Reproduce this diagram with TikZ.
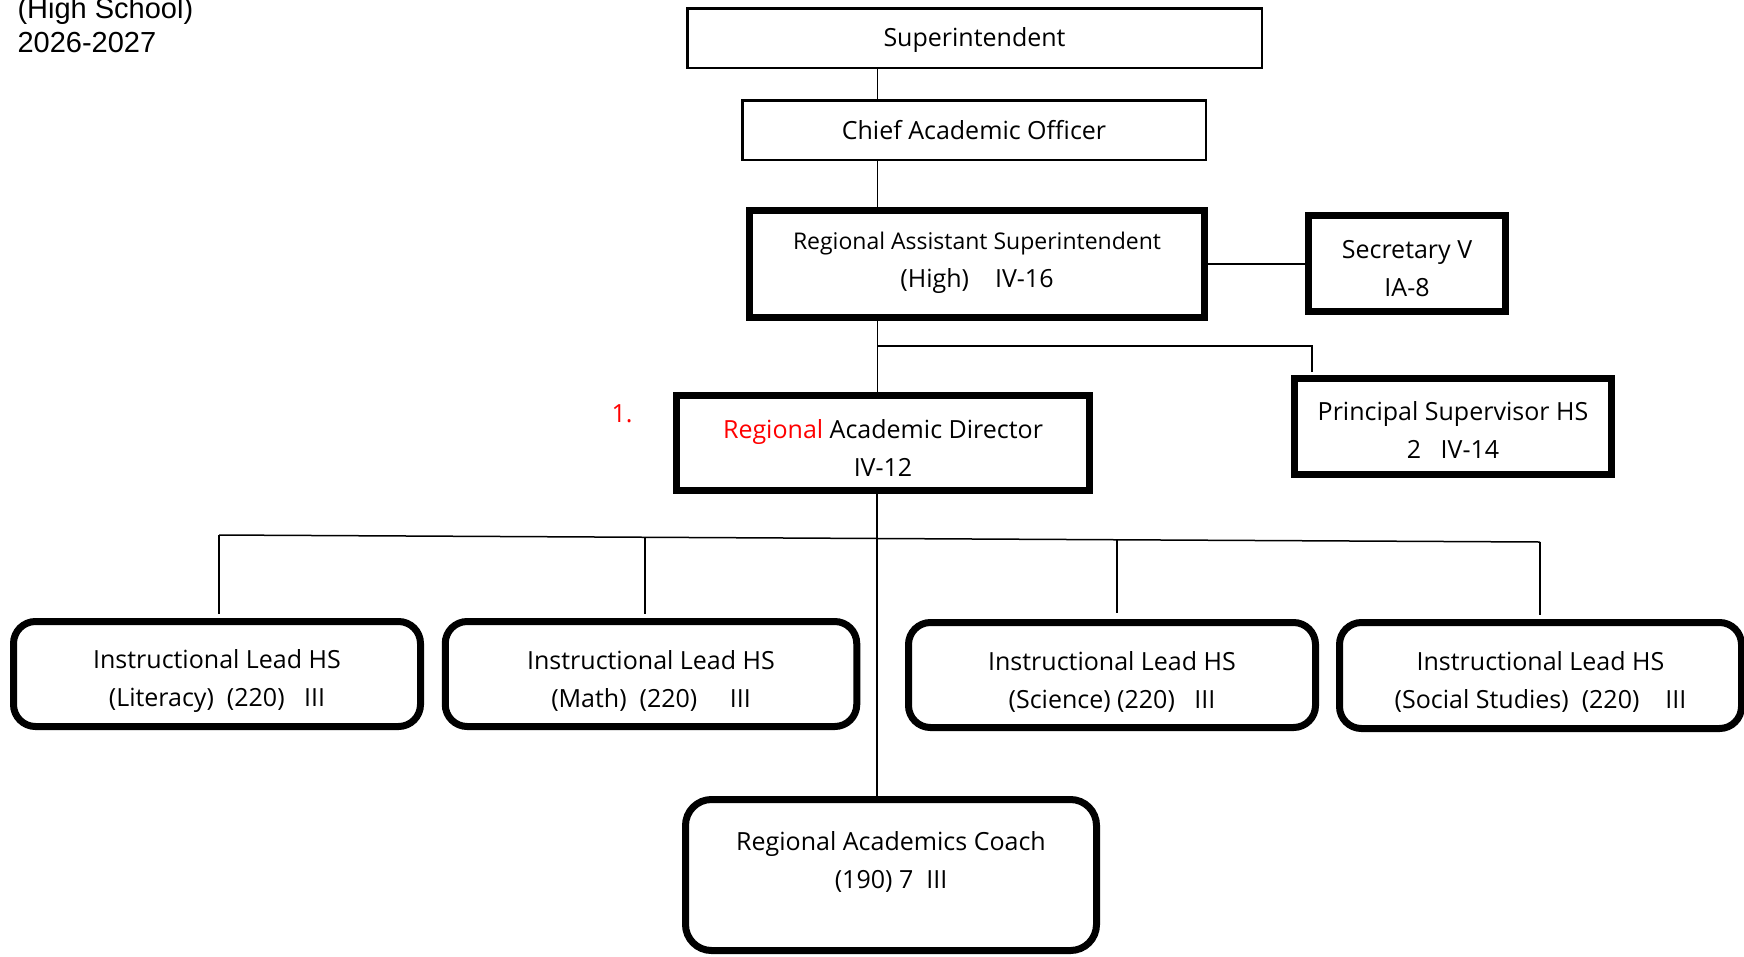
\documentclass[tikz,border=0pt]{standalone}
\usepackage{fontspec}
\setmainfont{Open Sans}
\newfontfamily\arialfont{Liberation Sans}
\begin{document}
\begin{tikzpicture}[x=1pt,y=-1pt,
  txt/.style={align=center, inner sep=0pt, font=\fontsize{25}{38}\selectfont},
  thinbox/.style={draw, line width=2.5pt, inner sep=0pt},
  thickbox/.style={draw, line width=7pt, inner sep=0pt},
  leadbox/.style={draw, line width=7pt, rounded corners=22pt, inner sep=0pt},
  conn/.style={line width=1.5pt},
  hdr/.style={anchor=base west, font=\arialfont\fontsize{29}{34}\selectfont}
]
\useasboundingbox (0,0) rectangle (1744,956);

% header text
\node[hdr] (hs) at (14,18) {(High School)};
\node[hdr] (yr) at (14,52) {2026-2027};

% boxes
\node[thinbox, minimum width=574.5pt, minimum height=59.5pt] (super) at (974.5,38) {};
\node[thinbox, minimum width=463.5pt, minimum height=59.5pt] (cao) at (974,130) {};
\node[thickbox, minimum width=455pt, minimum height=107pt] (ras) at (977,264) {};
\node[thickbox, minimum width=197pt, minimum height=96pt] (sec) at (1407,263.5) {};
\node[thickbox, minimum width=317pt, minimum height=96pt] (ps) at (1453,426.5) {};
\node[thickbox, minimum width=413pt, minimum height=95.5pt] (rad) at (883,443) {};
\node[leadbox, minimum width=407pt, minimum height=105pt] (lit) at (217,674) {};
\node[leadbox, minimum width=411.5pt, minimum height=105pt] (math) at (651,674) {};
\node[leadbox, minimum width=407pt, minimum height=105pt] (sci) at (1112,675) {};
\node[leadbox, minimum width=402pt, minimum height=106pt] (soc) at (1540.5,675.5) {};
\node[leadbox, rounded corners=26pt, minimum width=411pt, minimum height=151pt] (coach) at (891,875) {};

% texts
\node[txt] (supert) at ([yshift=-2pt]super.center) {Superintendent};
\node[txt] (caot) at (cao.center) {Chief Academic Officer};
\node[txt] (rast) at ([yshift=1pt]ras.center)
  {{\fontsize{23}{36}\selectfont Regional Assistant Superintendent}\\(High)~~~~IV-16};
\node[txt] (sect) at ([yshift=-5.5pt]sec.center) {Secretary V\\IA-8};
\node[txt] (pst) at ([yshift=-3.5pt]ps.center) {Principal Supervisor HS\\2~~~IV-14};
\node[txt] (radt) at ([yshift=-4.5pt]rad.center) {\textcolor{red}{Regional} Academic Director\\IV-12};
\node[txt, text=red] (one) at (622,414) {1.};
\node[txt] (litt) at ([yshift=-6.5pt]lit.center) {Instructional Lead HS\\(Literacy)~~(220)~~~III};
\node[txt] (matht) at ([yshift=-6.5pt]math.center) {Instructional Lead HS\\(Math)~~(220)~~~~~III};
\node[txt] (scit) at ([yshift=-6.5pt]sci.center) {Instructional Lead HS\\(Science)~(220)~~~III};
\node[txt] (soct) at ([yshift=-6.5pt]soc.center) {Instructional Lead HS\\(Social Studies)~~(220)~~~~III};
\node[txt] (coacht) at (891,862) {Regional Academics Coach\\(190)~7~~III};

% connector coordinates
\coordinate (trunk) at (877.5,0);
\coordinate (b1) at (877.5,346);
\coordinate (psx) at (1312,0);
\coordinate (radx) at (877,0);
\coordinate (busL) at (219,535);
\coordinate (busR) at (1540,542);
\coordinate (mathx) at (645,537.3);
\coordinate (scix) at (1117,539.8);

% connectors
\draw[conn] (super.south -| trunk) -- (cao.north -| trunk);
\draw[conn] (cao.south -| trunk) -- (ras.north -| trunk);
\draw[conn] (ras.south -| trunk) -- (rad.north -| trunk);
\draw[conn] (ras.east) -- (ras.east -| sec.west);
\draw[conn] (b1) -- (b1 -| psx) -- ([yshift=3pt]ps.north -| psx);
\draw[conn] (rad.south -| radx) -- (coach.north -| radx);
\draw[conn] (busL) -- (busR);
\draw[conn] (busL) -- ([yshift=4pt]lit.north -| busL);
\draw[conn] (mathx) -- ([yshift=4pt]math.north -| mathx);
\draw[conn] (scix) -- ([yshift=6pt]sci.north -| scix);
\draw[conn] (busR) -- ([yshift=4pt]soc.north -| busR);
\end{tikzpicture}
\end{document}
